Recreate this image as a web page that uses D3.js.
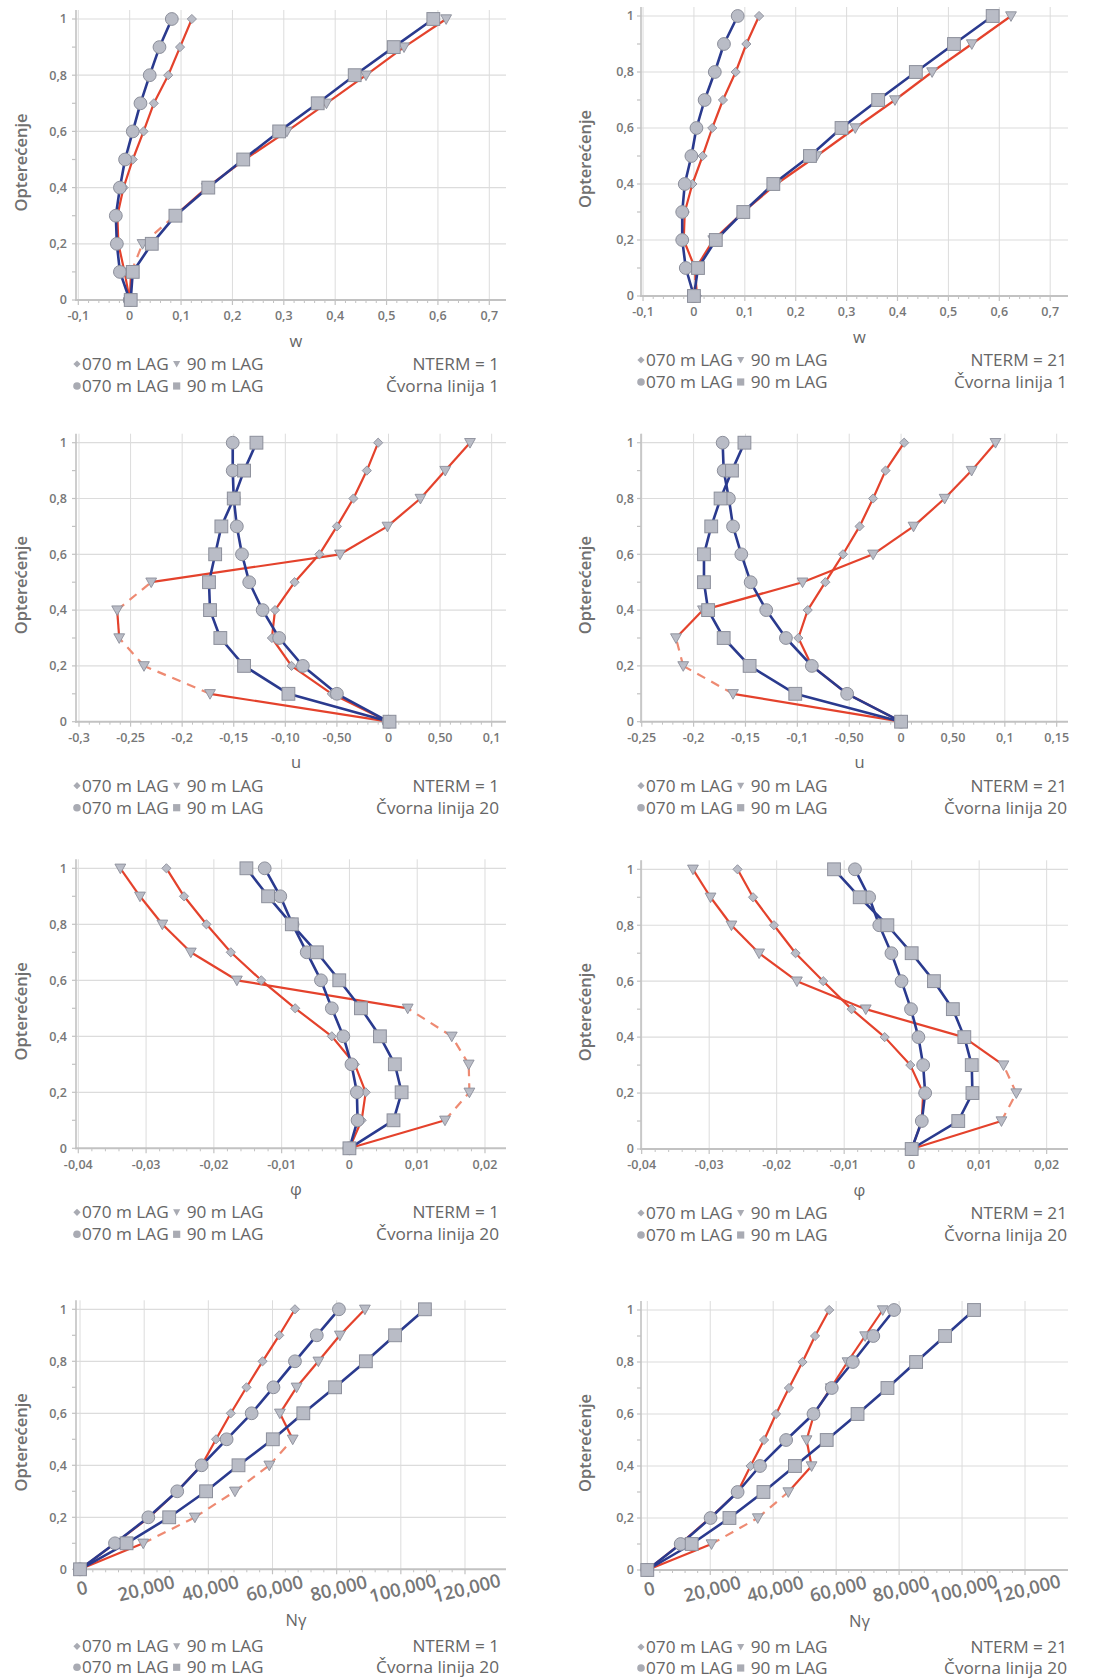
<!DOCTYPE html>
<html>
<head>
<meta charset="utf-8">
<script src="https://cdn.jsdelivr.net/npm/d3@7"></script>
<style>
  body { margin: 0; background: #fff; }
  svg { display: block; }
  text { font-family: "Open Sans", "Noto Sans", sans-serif; }
</style>
</head>
<body>
<svg id="chart" width="1107" height="1679"></svg>
<script>
// ---- load steps (vertical axis) ----
const loads = [0, 0.1, 0.2, 0.3, 0.4, 0.5, 0.6, 0.7, 0.8, 0.9, 1.0];
const yTicks = [0, 0.2, 0.4, 0.6, 0.8, 1];
const yTickLabels = ["0", "0,2", "0,4", "0,6", "0,8", "1"];
const yTitle = "Opterećenje";
const legendLabel070 = "070 m LAG";
const legendLabel90 = "90 m LAG";

// ---- horizontal axis ticks ----
const wTicks = [-0.1, 0, 0.1, 0.2, 0.3, 0.4, 0.5, 0.6, 0.7];
const wTickLabels = ["-0,1", "0", "0,1", "0,2", "0,3", "0,4", "0,5", "0,6", "0,7"];
const uTicksN1 = [-0.3, -0.25, -0.2, -0.15, -0.1, -0.05, 0, 0.05, 0.1];
const uTickLabelsN1 = ["-0,3", "-0,25", "-0,2", "-0,15", "-0,10", "-0,50", "0", "0,50", "0,1"];
const uTicksN21 = [-0.25, -0.2, -0.15, -0.1, -0.05, 0, 0.05, 0.1, 0.15];
const uTickLabelsN21 = ["-0,25", "-0,2", "-0,15", "-0,1", "-0,50", "0", "0,50", "0,1", "0,15"];
const phiTicks = [-0.04, -0.03, -0.02, -0.01, 0, 0.01, 0.02];
const phiTickLabels = ["-0,04", "-0,03", "-0,02", "-0,01", "0", "0,01", "0,02"];
const nTicks = [0, 20000, 40000, 60000, 80000, 100000, 120000];
const nTickLabels = ["0", "20,000", "40,000", "60,000", "80,000", "100,000", "120,000"];

// ---- w, NTERM = 1, node line 1 ----
const wN1Red070  = [0, -0.010, -0.022, -0.024, -0.012, 0.006, 0.027, 0.047, 0.075, 0.098, 0.121];
const wN1Red90   = [0, 0.003, 0.025, 0.088, 0.150, 0.224, 0.306, 0.383, 0.460, 0.534, 0.616];
const wN1Blue070 = [0, -0.019, -0.025, -0.027, -0.019, -0.009, 0.006, 0.021, 0.039, 0.058, 0.082];
const wN1Blue90  = [0.002, 0.006, 0.043, 0.089, 0.153, 0.221, 0.291, 0.366, 0.438, 0.514, 0.591];
const wN1Dashed  = [1, 2];

// ---- w, NTERM = 21, node line 1 ----
const wN21Red070  = [0.006, 0.002, -0.020, -0.018, -0.003, 0.017, 0.036, 0.057, 0.082, 0.103, 0.128];
const wN21Red90   = [0, 0.004, 0.038, 0.097, 0.162, 0.241, 0.317, 0.395, 0.468, 0.546, 0.623];
const wN21Blue070 = [0, -0.016, -0.023, -0.023, -0.018, -0.005, 0.005, 0.021, 0.041, 0.059, 0.086];
const wN21Blue90  = [0, 0.008, 0.043, 0.097, 0.156, 0.228, 0.290, 0.362, 0.436, 0.511, 0.587];
const wN21Dashed  = [0];

// ---- u, NTERM = 1, node line 20 ----
const uN1Red070  = [0, -0.055, -0.094, -0.113, -0.110, -0.091, -0.067, -0.050, -0.034, -0.021, -0.010];
const uN1Red90   = [0, -0.173, -0.237, -0.261, -0.263, -0.230, -0.047, -0.001, 0.031, 0.055, 0.079];
const uN1Blue070 = [0, -0.050, -0.083, -0.106, -0.122, -0.135, -0.142, -0.147, -0.150, -0.151, -0.151];
const uN1Blue90  = [0.001, -0.097, -0.140, -0.163, -0.173, -0.174, -0.168, -0.162, -0.150, -0.140, -0.128];
const uN1Dashed  = [1, 2, 4];

// ---- u, NTERM = 21, node line 20 ----
const uN21Red070  = [0, -0.052, -0.086, -0.099, -0.090, -0.073, -0.056, -0.040, -0.027, -0.015, 0.003];
const uN21Red90   = [0, -0.162, -0.210, -0.217, -0.191, -0.095, -0.027, 0.012, 0.042, 0.068, 0.091];
const uN21Blue070 = [0, -0.052, -0.086, -0.111, -0.130, -0.145, -0.154, -0.162, -0.166, -0.171, -0.172];
const uN21Blue90  = [0, -0.102, -0.146, -0.171, -0.186, -0.190, -0.190, -0.183, -0.174, -0.163, -0.151];
const uN21Dashed  = [1, 2];

// ---- φ, NTERM = 1, node line 20 ----
const phiN1Red070  = [0, 0.0018, 0.0024, 0.0008, -0.0026, -0.0080, -0.0130, -0.0175, -0.0211, -0.0244, -0.0270];
const phiN1Red90   = [0, 0.0141, 0.0177, 0.0176, 0.0151, 0.0086, -0.0166, -0.0234, -0.0276, -0.0309, -0.0338];
const phiN1Blue070 = [0, 0.0012, 0.0011, 0.0003, -0.0009, -0.0026, -0.0042, -0.0063, -0.0084, -0.0102, -0.0125];
const phiN1Blue90  = [0, 0.0065, 0.0077, 0.0067, 0.0045, 0.0017, -0.0015, -0.0048, -0.0085, -0.0120, -0.0152];
const phiN1Dashed  = [1, 2, 3, 4];

// ---- φ, NTERM = 21, node line 20 ----
const phiN21Red070  = [0, 0.0015, 0.0017, -0.0002, -0.0040, -0.0089, -0.0131, -0.0172, -0.0204, -0.0235, -0.0258];
const phiN21Red90   = [0, 0.0133, 0.0155, 0.0136, 0.0077, -0.0068, -0.0170, -0.0226, -0.0267, -0.0298, -0.0324];
const phiN21Blue070 = [0, 0.0015, 0.0020, 0.0017, 0.0010, -0.0001, -0.0015, -0.0030, -0.0048, -0.0063, -0.0084];
const phiN21Blue90  = [0, 0.0069, 0.0090, 0.0089, 0.0078, 0.0061, 0.0033, 0.0000, -0.0036, -0.0077, -0.0115];
const phiN21Dashed  = [1, 2];

// ---- Nγ, NTERM = 1, node line 20 ----
const nN1Red070  = [0, 10900, 21600, 30300, 37900, 42400, 47000, 51900, 56900, 62100, 67000];
const nN1Red90   = [0, 19700, 35800, 48300, 59000, 66300, 62300, 67500, 74300, 81000, 88800];
const nN1Blue070 = [0, 10900, 21300, 30300, 37900, 45700, 53500, 60300, 67000, 73800, 80700];
const nN1Blue90  = [0, 14500, 27800, 39300, 49400, 60100, 69600, 79500, 89100, 98200, 107500];
const nN1Dashed  = [1, 2, 3, 4];

// ---- Nγ, NTERM = 21, node line 20 ----
const nN21Red070  = [0, 10400, 19900, 28700, 32800, 37100, 40900, 45000, 49300, 53300, 57800];
const nN21Red90   = [0, 20400, 35100, 44800, 52200, 50600, 53000, 58300, 63600, 69200, 74800];
const nN21Blue070 = [0, 10600, 20100, 28700, 35800, 44100, 52800, 58600, 65300, 71800, 78400];
const nN21Blue90  = [0, 14100, 26100, 36900, 46900, 57000, 66800, 76300, 85400, 94600, 103800];
const nN21Dashed  = [1, 2];

// ---- panel definitions ----
const panels = [
  { col: 0, y1: 19, y0: 300, title: "w", nterm: "NTERM = 1", node: "Čvorna linija 1",
    ticks: wTicks, labels: wTickLabels, domain: [-0.1045, 0.7325],
    red070: wN1Red070, red90: wN1Red90, blue070: wN1Blue070, blue90: wN1Blue90, dashed: wN1Dashed },
  { col: 1, y1: 16, y0: 296, title: "w", nterm: "NTERM = 21", node: "Čvorna linija 1",
    ticks: wTicks, labels: wTickLabels, domain: [-0.1040, 0.7350],
    red070: wN21Red070, red90: wN21Red90, blue070: wN21Blue070, blue90: wN21Blue90, dashed: wN21Dashed },
  { col: 0, y1: 442.7, y0: 721.7, title: "u", nterm: "NTERM = 1", node: "Čvorna linija 20",
    ticks: uTicksN1, labels: uTickLabelsN1, domain: [-0.3029, 0.1139],
    red070: uN1Red070, red90: uN1Red90, blue070: uN1Blue070, blue90: uN1Blue90, dashed: uN1Dashed },
  { col: 1, y1: 442.7, y0: 721.7, title: "u", nterm: "NTERM = 21", node: "Čvorna linija 20",
    ticks: uTicksN21, labels: uTickLabelsN21, domain: [-0.2507, 0.1609],
    red070: uN21Red070, red90: uN21Red90, blue070: uN21Blue070, blue90: uN21Blue90, dashed: uN21Dashed },
  { col: 0, y1: 868.3, y0: 1148.3, title: "φ", nterm: "NTERM = 1", node: "Čvorna linija 20",
    ticks: phiTicks, labels: phiTickLabels, domain: [-0.04034, 0.0231],
    red070: phiN1Red070, red90: phiN1Red90, blue070: phiN1Blue070, blue90: phiN1Blue90, dashed: phiN1Dashed },
  { col: 1, y1: 869.3, y0: 1149, title: "φ", nterm: "NTERM = 21", node: "Čvorna linija 20",
    ticks: phiTicks, labels: phiTickLabels, domain: [-0.0401, 0.02316],
    red070: phiN21Red070, red90: phiN21Red90, blue070: phiN21Blue070, blue90: phiN21Blue90, dashed: phiN21Dashed },
  { col: 0, y1: 1309.3, y0: 1569.3, title: "Nγ", nterm: "NTERM = 1", node: "Čvorna linija 20",
    ticks: nTicks, labels: nTickLabels, domain: [-1250, 132780], rotated: true,
    red070: nN1Red070, red90: nN1Red90, blue070: nN1Blue070, blue90: nN1Blue90, dashed: nN1Dashed },
  { col: 1, y1: 1310, y0: 1570, title: "Nγ", nterm: "NTERM = 21", node: "Čvorna linija 20",
    ticks: nTicks, labels: nTickLabels, domain: [-2000, 133660], rotated: true,
    red070: nN21Red070, red90: nN21Red90, blue070: nN21Blue070, blue90: nN21Blue90, dashed: nN21Dashed }
];

// ---- layout and style ----
const columns = [
  { x0: 76, x1: 506, titleX: 21, tickRight: 67, legLeft: 73, legRight: 499 },
  { x0: 641, x1: 1068, titleX: 585, tickRight: 634, legLeft: 637, legRight: 1067 }
];
const BLUE = "#2a3a8e";
const RED = "#e4422c";
const RED_DASH = "#ee8a72";
const MARK_FILL = "#b9bcc6";
const MARK_STROKE = "#8c8f9b";
const GRID = "#dcdcdc";
const AXIS = "#c2c2c2";
const TEXT = "#666";
const LEGEND_SIZE = 17.2;

const svg = d3.select("#chart");

function marker(g, shape, x, y) {
  if (shape === "circle") {
    g.append("circle").attr("cx", x).attr("cy", y).attr("r", 6.4)
      .attr("fill", MARK_FILL).attr("stroke", MARK_STROKE).attr("stroke-width", 1);
  } else if (shape === "square") {
    g.append("rect").attr("x", x - 6.4).attr("y", y - 6.4).attr("width", 12.8).attr("height", 12.8)
      .attr("fill", MARK_FILL).attr("stroke", MARK_STROKE).attr("stroke-width", 1);
  } else if (shape === "diamond") {
    const s = 4.6;
    g.append("path").attr("d", `M${x},${y - s}L${x + s},${y}L${x},${y + s}L${x - s},${y}Z`)
      .attr("fill", MARK_FILL).attr("stroke", MARK_STROKE).attr("stroke-width", 0.9);
  } else if (shape === "triangle") {
    g.append("path").attr("d", `M${x - 5.4},${y - 4.2}L${x + 5.4},${y - 4.2}L${x},${y + 5.4}Z`)
      .attr("fill", MARK_FILL).attr("stroke", MARK_STROKE).attr("stroke-width", 0.9);
  }
}

function legendGlyph(g, shape, x, y) {
  const c = "#a9abb3";
  if (shape === "diamond") {
    g.append("path").attr("d", `M${x},${y - 3.6}L${x + 3.6},${y}L${x},${y + 3.6}L${x - 3.6},${y}Z`).attr("fill", c);
  } else if (shape === "triangle") {
    g.append("path").attr("d", `M${x - 3.6},${y - 3}L${x + 3.6},${y - 3}L${x},${y + 3.6}Z`).attr("fill", c);
  } else if (shape === "circle") {
    g.append("circle").attr("cx", x).attr("cy", y).attr("r", 3.8).attr("fill", c);
  } else {
    g.append("rect").attr("x", x - 3.6).attr("y", y - 3.6).attr("width", 7.2).attr("height", 7.2).attr("fill", c);
  }
}

panels.forEach(p => {
  const c = columns[p.col];
  const g = svg.append("g");
  const x = d3.scaleLinear().domain(p.domain).range([c.x0, c.x1]);
  const y = d3.scaleLinear().domain([0, 1]).range([p.y0, p.y1]);
  const top = p.y1 - 9;

  // grid
  g.selectAll(null).data(p.ticks).join("line")
    .attr("x1", d => x(d)).attr("x2", d => x(d)).attr("y1", top).attr("y2", p.y0)
    .attr("stroke", GRID).attr("stroke-width", 1);
  g.selectAll(null).data(yTicks.filter(d => d > 0)).join("line")
    .attr("x1", c.x0).attr("x2", c.x1).attr("y1", d => y(d)).attr("y2", d => y(d))
    .attr("stroke", GRID).attr("stroke-width", 1.2);

  // axes lines with major and minor ticks
  g.append("line").attr("x1", c.x0).attr("x2", c.x0).attr("y1", top).attr("y2", p.y0 + 1)
    .attr("stroke", AXIS).attr("stroke-width", 1.6);
  g.append("line").attr("x1", c.x0 - 1).attr("x2", c.x1).attr("y1", p.y0).attr("y2", p.y0)
    .attr("stroke", AXIS).attr("stroke-width", 2);
  g.selectAll(null).data(loads).join("line")
    .attr("x1", c.x0 - 4).attr("x2", c.x0).attr("y1", d => y(d)).attr("y2", d => y(d))
    .attr("stroke", AXIS).attr("stroke-width", 1.2);
  const step = p.ticks[1] - p.ticks[0];
  const minor = [];
  for (let i = 0; i < p.ticks.length - 1; i++) {
    for (let k = 1; k < 5; k++) minor.push(p.ticks[i] + step * k / 5);
  }
  g.selectAll(null).data(minor).join("line")
    .attr("x1", d => x(d)).attr("x2", d => x(d)).attr("y1", p.y0).attr("y2", p.y0 + 3)
    .attr("stroke", AXIS).attr("stroke-width", 1);
  g.selectAll(null).data(p.ticks).join("line")
    .attr("x1", d => x(d)).attr("x2", d => x(d)).attr("y1", p.y0).attr("y2", p.y0 + 5)
    .attr("stroke", AXIS).attr("stroke-width", 1.2);

  // tick labels
  g.selectAll(null).data(yTicks).join("text")
    .attr("x", c.tickRight).attr("y", d => y(d)).attr("dy", "0.35em")
    .attr("text-anchor", "end").attr("font-size", 12.5).attr("font-weight", 600)
    .attr("fill", "#777").text((d, i) => yTickLabels[i]);
  if (p.rotated) {
    g.selectAll(null).data(p.ticks).join("text")
      .attr("transform", d => `translate(${x(d) + 2},${p.y0 + 19}) rotate(-14)`)
      .attr("dy", "0.35em").attr("text-anchor", "middle")
      .attr("font-size", 18.5).attr("font-weight", 600).attr("fill", "#777")
      .text((d, i) => p.labels[i]);
  } else {
    g.selectAll(null).data(p.ticks).join("text")
      .attr("x", d => x(d)).attr("y", p.y0 + 16).attr("dy", "0.35em")
      .attr("text-anchor", "middle").attr("font-size", 12.5).attr("font-weight", 600)
      .attr("fill", "#777").text((d, i) => p.labels[i]);
  }

  // axis titles
  const titleY = p.y0 + (p.rotated ? 51 : 41);
  g.append("text").attr("x", (c.x0 + c.x1) / 2 + 5).attr("y", titleY).attr("dy", "0.35em")
    .attr("text-anchor", "middle").attr("font-size", 16.5).attr("fill", TEXT).text(p.title);
  g.append("text")
    .attr("transform", `translate(${c.titleX},${(p.y0 + p.y1) / 2 + 3}) rotate(-90)`)
    .attr("dy", "0.35em").attr("text-anchor", "middle")
    .attr("font-size", 16.5).attr("font-weight", 600).attr("fill", "#707070").text(yTitle);

  // series lines
  const pts = arr => arr.map((v, i) => [x(v), y(loads[i])]);
  const line = d3.line();
  const red90 = pts(p.red90);
  for (let i = 0; i < red90.length - 1; i++) {
    const dashed = p.dashed.includes(i);
    g.append("path").attr("d", line([red90[i], red90[i + 1]]))
      .attr("fill", "none").attr("stroke", dashed ? RED_DASH : RED)
      .attr("stroke-width", 2.2).attr("stroke-dasharray", dashed ? "9,7" : null);
  }
  g.append("path").attr("d", line(pts(p.red070))).attr("fill", "none")
    .attr("stroke", RED).attr("stroke-width", 2.2).attr("stroke-linejoin", "round");
  g.append("path").attr("d", line(pts(p.blue070))).attr("fill", "none")
    .attr("stroke", BLUE).attr("stroke-width", 2.6).attr("stroke-linejoin", "round");
  g.append("path").attr("d", line(pts(p.blue90))).attr("fill", "none")
    .attr("stroke", BLUE).attr("stroke-width", 2.6).attr("stroke-linejoin", "round");

  // markers
  pts(p.red070).forEach(([px, py]) => marker(g, "diamond", px, py));
  red90.forEach(([px, py]) => marker(g, "triangle", px, py));
  pts(p.blue070).forEach(([px, py]) => marker(g, "circle", px, py));
  pts(p.blue90).forEach(([px, py]) => marker(g, "square", px, py));

  // legend
  const ly1 = p.y0 + (p.rotated ? 77 : 64);
  const ly2 = p.y0 + (p.rotated ? 98 : 86);
  const rows = [
    { y: ly1, a: "diamond", b: "triangle" },
    { y: ly2, a: "circle", b: "square" }
  ];
  rows.forEach(r => {
    legendGlyph(g, r.a, c.legLeft + 4, r.y);
    const t = g.append("text").attr("x", c.legLeft + 9).attr("y", r.y).attr("dy", "0.35em")
      .attr("font-size", LEGEND_SIZE).attr("fill", TEXT).text(legendLabel070);
    const end = c.legLeft + 9 + t.node().getComputedTextLength();
    legendGlyph(g, r.b, end + 8, r.y);
    g.append("text").attr("x", end + 18).attr("y", r.y).attr("dy", "0.35em")
      .attr("font-size", LEGEND_SIZE).attr("fill", TEXT).text(legendLabel90);
  });
  g.append("text").attr("x", c.legRight).attr("y", ly1).attr("dy", "0.35em")
    .attr("text-anchor", "end").attr("font-size", LEGEND_SIZE).attr("fill", TEXT).text(p.nterm);
  g.append("text").attr("x", c.legRight).attr("y", ly2).attr("dy", "0.35em")
    .attr("text-anchor", "end").attr("font-size", LEGEND_SIZE).attr("fill", TEXT).text(p.node);
});
</script>
</body>
</html>
